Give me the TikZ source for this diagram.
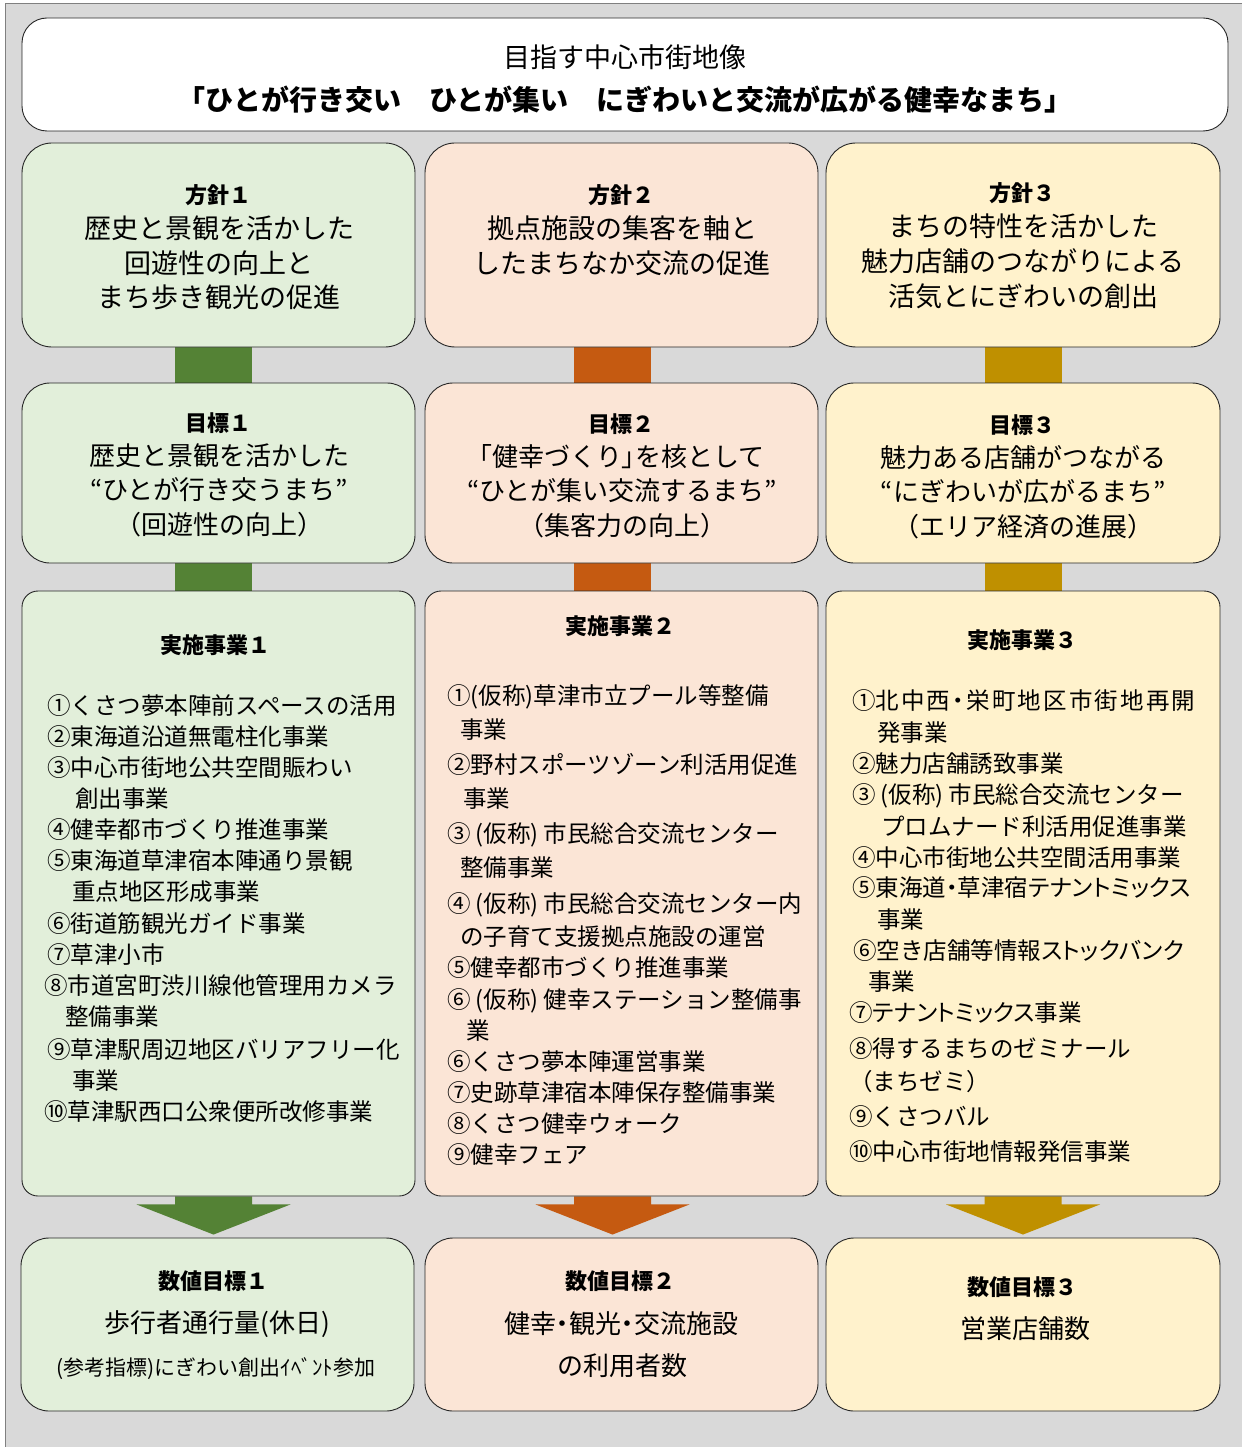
\documentclass[tikz,border=0pt]{standalone}
\usepackage{fontspec}
\setmainfont{Noto Sans CJK JP}
\newfontfamily\jpp{Noto Sans CJK JP}[RawFeature=+palt]
\usetikzlibrary{calc}
\pgfdeclarelayer{background}
\pgfsetlayers{background,main}
\definecolor{bgGray}{HTML}{D9D9D9}
\definecolor{frameGray}{HTML}{808080}
\definecolor{fillG}{HTML}{E2EFDA}
\definecolor{fillO}{HTML}{FBE5D6}
\definecolor{fillY}{HTML}{FFF2CC}
\definecolor{barG}{HTML}{548235}
\definecolor{barO}{HTML}{C55A11}
\definecolor{barY}{HTML}{BF9000}
\begin{document}
\begin{tikzpicture}[x=1pt,y=-1pt,
  box/.style={draw=black!85, line width=0.9pt, rounded corners=#1, inner sep=0pt},
  lbl/.style={inner sep=0pt, anchor=base},
  f27/.style={lbl, font=\fontsize{27}{32}\selectfont, yshift=-10.3pt},
  f26/.style={lbl, font=\fontsize{26}{31}\selectfont, yshift=-9.9pt},
  f21/.style={lbl, font=\fontsize{21}{25}\selectfont, yshift=-8pt},
  hd/.style={lbl, font=\bfseries\fontsize{22}{26}\selectfont, yshift=-8.4pt},
  tb/.style={lbl, font=\bfseries\fontsize{28}{33}\selectfont, yshift=-10.6pt},
  itm/.style={inner sep=0pt, anchor=base west, font=\fontsize{23.5}{28}\selectfont, yshift=-8.9pt}]
\useasboundingbox (0,0) rectangle (1242,1447);

% ---------- boxes ----------
\node[box=25pt, fill=white, minimum width=1206pt, minimum height=113pt] (top) at (625,74.5) {};

\node[box=30pt, fill=fillG, minimum width=393pt, minimum height=204pt] (h1) at (218.5,245) {};
\node[box=30pt, fill=fillO, minimum width=393pt, minimum height=204pt] (h2) at (621.5,245) {};
\node[box=30pt, fill=fillY, minimum width=394pt, minimum height=204pt] (h3) at (1023,245) {};

\node[box=28pt, fill=fillG, minimum width=393pt, minimum height=180pt] (m1) at (218.5,473) {};
\node[box=28pt, fill=fillO, minimum width=393pt, minimum height=180pt] (m2) at (621.5,473) {};
\node[box=28pt, fill=fillY, minimum width=394pt, minimum height=180pt] (m3) at (1023,473) {};

\node[box=16pt, fill=fillG, minimum width=393pt, minimum height=605pt] (s1) at (218.5,893.5) {};
\node[box=16pt, fill=fillO, minimum width=393pt, minimum height=605pt] (s2) at (621.5,893.5) {};
\node[box=16pt, fill=fillY, minimum width=394pt, minimum height=605pt] (s3) at (1023,893.5) {};

\node[box=28pt, fill=fillG, minimum width=393pt, minimum height=173pt] (v1) at (217.5,1324.5) {};
\node[box=28pt, fill=fillO, minimum width=393pt, minimum height=173pt] (v2) at (621.5,1324.5) {};
\node[box=28pt, fill=fillY, minimum width=394pt, minimum height=173pt] (v3) at (1023,1324.5) {};

\coordinate (b1) at (213.5,0);
\coordinate (b2) at (612.5,0);
\coordinate (b3) at (1023,0);

% ---------- background and connectors ----------
\begin{pgfonlayer}{background}
\fill[white] (0,0) rectangle (1242,1447);
\fill[bgGray] (5,4) rectangle (1242,1447);
\draw[frameGray, line width=1pt] (5,1447) -- (5,4) -- (1242,4);
\foreach \c/\col in {1/barG,2/barO,3/barY}{
  \fill[\col] ($(h\c.south -| b\c)+(-38.5,0)$) rectangle ($(m\c.north -| b\c)+(38.5,0)$);
  \fill[\col] ($(m\c.south -| b\c)+(-38.5,0)$) rectangle ($(s\c.north -| b\c)+(38.5,0)$);
  \fill[\col] ($(s\c.south -| b\c)+(-38.5,0)$) -- ++(0,8) -- ++(-38.5,0)
     -- ($(v\c.north -| b\c)+(0,-3)$) -- ($(s\c.south -| b\c)+(77,8)$) -- ++(-38.5,0)
     -- ++(0,-8) -- cycle;
}
\end{pgfonlayer}

% ---------- top ----------
\node[f27] (t0) at (625,57) {目指す中心市街地像};
\node[tb] (t1) at (625,100) {「ひとが行き交い　ひとが集い　にぎわいと交流が広がる健幸なまち」};

% ---------- row 1 ----------
\node[hd] (ha1) at (218,195) {方針１};
\node[f27] (hb1) at (219,228) {歴史と景観を活かした};
\node[f27] (hc1) at (219,263) {回遊性の向上と};
\node[f27] (hd1) at (219,297) {まち歩き観光の促進};
\node[hd] (ha2) at (621,195) {方針２};
\node[f27] (hb2) at (622,228) {拠点施設の集客を軸と};
\node[f27] (hc2) at (622,263) {したまちなか交流の促進};
\node[hd] (ha3) at (1022,193) {方針３};
\node[f27] (hb3) at (1023,226) {まちの特性を活かした};
\node[f27] (hc3) at (1023,261) {魅力店舗のつながりによる};
\node[f27] (hd3) at (1023,296) {活気とにぎわいの創出};

% ---------- row 2 ----------
\node[hd] (ma1) at (218,423) {目標１};
\node[f26] (mb1) at (219,456) {歴史と景観を活かした};
\node[f26] (mc1) at (219,490) {“ひとが行き交うまち”};
\node[f26] (md1) at (219,525) {（回遊性の向上）};
\node[hd] (ma2) at (621,424) {目標２};
\node[f26] (mb2) at (622,457) {{\jpp 「}健幸づくり{\jpp 」}を核として};
\node[f26] (mc2) at (622,491) {“ひとが集い交流するまち”};
\node[f26] (md2) at (622,526) {（集客力の向上）};
\node[hd] (ma3) at (1022,425) {目標３};
\node[f26] (mb3) at (1023,458) {魅力ある店舗がつながる};
\node[f26] (mc3) at (1023,492) {“にぎわいが広がるまち”};
\node[f26] (md3) at (1023,527) {（エリア経済の進展）};

% ---------- row 3 ----------
\node[hd] (sa1) at (215,645) {実施事業１};
\node[hd] (sa2) at (620,626) {実施事業２};
\node[hd] (sa3) at (1022,640) {実施事業３};

\foreach \x/\y/\tx [count=\i] in {
  47/706/①くさつ夢本陣前スペースの活用,
  47/737/②東海道沿道無電柱化事業,
  47/768/③中心市街地公共空間賑わい,
  75/799/創出事業,
  47/830/④健幸都市づくり推進事業,
  47/861/⑤東海道草津宿本陣通り景観,
  72/892/重点地区形成事業,
  47/924/⑥街道筋観光ガイド事業,
  47/955/⑦草津小市,
  44/986/⑧市道宮町渋川線他管理用カメラ,
  65/1017/整備事業,
  47/1050/⑨草津駅周辺地区バリアフリー化,
  72/1081/事業,
  44/1112/⑩草津駅西口公衆便所改修事業}
  \node[itm] (ia\i) at (\x,\y) {\tx};

\foreach \x/\y/\tx [count=\i] in {
  447/696/①(仮称)草津市立プール等整備,
  460/730/事業,
  447/765/②野村スポーツゾーン利活用促進,
  463/799/事業,
  447/834/③\hspace{5pt}(仮称)\hspace{5pt}市民総合交流センター,
  460/868/整備事業,
  447/904/④\hspace{5pt}(仮称)\hspace{5pt}市民総合交流センター内,
  460/937/の子育て支援拠点施設の運営,
  447/968/⑤健幸都市づくり推進事業,
  447/1000/⑥\hspace{5pt}(仮称)\hspace{5pt}健幸ステーション整備事,
  466/1031/業,
  447/1062/⑥くさつ夢本陣運営事業,
  447/1093/⑦史跡草津宿本陣保存整備事業,
  447/1124/⑧くさつ健幸ウォーク,
  447/1155/⑨健幸フェア}
  \node[itm] (ib\i) at (\x,\y) {\tx};

\foreach \x/\y/\tx [count=\i] in {
  852/701/\hbox to 343pt{①北\hfill 中\hfill 西\hfill {\jpp ・}\hfill 栄\hfill 町\hfill 地\hfill 区\hfill 市\hfill 街\hfill 地\hfill 再\hfill 開},
  877/733/発事業,
  852/764/②魅力店舗誘致事業,
  852/795/③\hspace{5pt}(仮称)\hspace{5pt}市民総合交流センター,
  881/827/プロムナード利活用促進事業,
  852/858/④中心市街地公共空間活用事業,
  852/888/⑤東海道{\jpp ・}草津宿{\jpp テナントミックス},
  877/920/事業,
  853/951/⑥空き店舗等情報{\jpp ストックバンク},
  868/982/事業,
  849/1013/⑦{\jpp テナントミックス}事業,
  849/1049/⑧得するまちのゼミナール,
  849/1082/（まちゼミ）,
  849/1117/⑨くさつバル,
  849/1152/⑩中心市街地情報発信事業}
  \node[itm] (ic\i) at (\x,\y) {\tx};

% ---------- row 4 ----------
\node[hd] (va1) at (213,1281) {数値目標１};
\node[f26] (vb1) at (217,1323) {歩行者通行量(休日)};
\node[f21] (vc1) at (216,1367) {(参考指標)にぎわい創出ｲﾍﾞﾝﾄ参加};
\node[hd] (va2) at (620,1281) {数値目標２};
\node[f26] (vb2) at (621,1324) {健幸{\jpp ・}観光{\jpp ・}交流施設};
\node[f26] (vc2) at (622,1366) {の利用者数};
\node[hd] (va3) at (1022,1287) {数値目標３};
\node[f26] (vb3) at (1025,1329) {営業店舗数};
\end{tikzpicture}
\end{document}
